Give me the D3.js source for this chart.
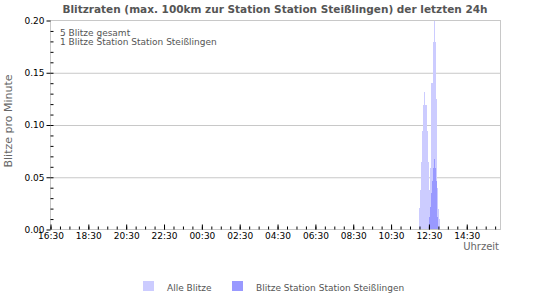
<!DOCTYPE html>
<html>
<head>
<meta charset="utf-8">
<script src="https://cdn.jsdelivr.net/npm/d3@7"></script>
<style>
  html, body { margin: 0; padding: 0; background: #fff; }
  svg { display: block; font-family: "DejaVu Sans", Verdana, sans-serif; }
</style>
</head>
<body>
<svg id="chart" width="550" height="300"></svg>
<script>
// ---- data ----
const titleText = "Blitzraten (max. 100km zur Station Station Steißlingen) der letzten 24h";
const infoLines = ["5 Blitze gesamt", "1 Blitze Station Station Steißlingen"];
const seriesNames = ["Alle Blitze", "Blitze Station Station Steißlingen"];
const seriesColors = ["#ccccff", "#9999ff"];

const axisStart = "16:30";
const axisEnd = "16:17";
const binMinutes = 3;

const alleTimes = ["12:00","12:03","12:06","12:09","12:12","12:15","12:18","12:21","12:24","12:27","12:30",
                   "12:33","12:36","12:39","12:42","12:45","12:48","12:51","12:54","12:57","13:00","13:03"];
const alleValues = [0.021,0.038,0.065,0.094,0.119,0.132,0.119,0.119,0.094,0.065,0.038,
                    0.059,0.140,0.140,0.179,0.200,0.179,0.125,0.075,0.040,0.020,0.010];

const stationTimes = ["12:30","12:33","12:36","12:39","12:42","12:45","12:48","12:51","12:54","12:57"];
const stationValues = [0.012,0.022,0.035,0.046,0.059,0.067,0.059,0.046,0.025,0.012];

const yTickValues = [0, 0.05, 0.10, 0.15, 0.20];
const xTickLabels = ["16:30","18:30","20:30","22:30","00:30","02:30","04:30","06:30","08:30","10:30","12:30","14:30"];

// ---- helpers ----
function toDate(hhmm) {
  const [h, m] = hhmm.split(":").map(Number);
  const d = new Date(2024, 0, 1, h, m);
  if (h * 60 + m < 16 * 60 + 30) d.setDate(d.getDate() + 1);
  return d;
}

const svg = d3.select("#chart");
const L = 50.5, R = 500.5, T = 20.5, B = 229.5;

const x = d3.scaleTime().domain([toDate(axisStart), toDate(axisEnd)]).range([L, R]);
const y = d3.scaleLinear().domain([0, 0.2]).range([B, T]);

// title
svg.append("text")
  .attr("x", 275).attr("y", 13)
  .attr("text-anchor", "middle")
  .attr("font-size", 10.5).attr("font-weight", "bold")
  .attr("fill", "#555")
  .text(titleText);

// grid lines
const grid = svg.append("g").attr("transform", `translate(${L},0)`)
  .call(d3.axisLeft(y).tickValues([0.05, 0.10, 0.15]).tickSize(-(R - L)).tickFormat(""));
grid.select(".domain").remove();
grid.selectAll("line").attr("stroke", "#c8c8c8");

// bars
function drawBars(times, values, color) {
  const data = times.map((t, i) => {
    const t0 = toDate(t);
    const t1 = d3.timeMinute.offset(t0, binMinutes);
    return { x0: Math.round(x(t0)), x1: Math.round(x(t1)), v: values[i] };
  });
  svg.append("g").attr("shape-rendering", "crispEdges")
    .selectAll("rect").data(data).join("rect")
    .attr("x", d => d.x0)
    .attr("width", d => Math.max(1, d.x1 - d.x0))
    .attr("y", d => Math.round(y(d.v)))
    .attr("height", d => Math.round(y(0)) - Math.round(y(d.v)))
    .attr("fill", color);
}
drawBars(alleTimes, alleValues, seriesColors[0]);
drawBars(stationTimes, stationValues, seriesColors[1]);

// frame
svg.append("rect")
  .attr("x", L).attr("y", T).attr("width", R - L).attr("height", B - T)
  .attr("fill", "none").attr("stroke", "#c8c8c8");

// y axis major (outside) with labels
const yMajor = svg.append("g").attr("transform", `translate(${L},0)`)
  .call(d3.axisLeft(y).tickValues(yTickValues).tickSize(4).tickPadding(2).tickFormat(d3.format(".2f")));
yMajor.select(".domain").remove();
yMajor.selectAll("line").attr("stroke", "#000");
yMajor.selectAll("text").attr("font-size", 9).attr("fill", "#000")
  .attr("font-family", "DejaVu Sans");

// y axis minor (inside)
const yMinorVals = d3.range(1, 20).map(i => i / 100);
const yMinor = svg.append("g").attr("transform", `translate(${L},0)`)
  .call(d3.axisRight(y).tickValues(yMinorVals).tickSize(3).tickFormat(""));
yMinor.select(".domain").remove();
yMinor.selectAll("line").attr("stroke", "#000");

// x axis minor ticks (inside, every 30 min)
const xMinor = svg.append("g").attr("transform", `translate(0,${B})`)
  .call(d3.axisBottom(x).ticks(d3.timeMinute.every(30)).tickSize(-3).tickFormat(""));
xMinor.select(".domain").remove();
xMinor.selectAll("line").attr("stroke", "#000");

// x axis major ticks with labels
const xMajorVals = xTickLabels.map(toDate);
const xMajor = svg.append("g").attr("transform", `translate(0,${B})`)
  .call(d3.axisBottom(x).tickValues(xMajorVals).tickSize(-5).tickPadding(3)
    .tickFormat(d3.timeFormat("%H:%M")));
xMajor.select(".domain").remove();
xMajor.selectAll("line").attr("stroke", "#000");
xMajor.selectAll("text").attr("font-size", 9).attr("fill", "#000")
  .attr("font-family", "DejaVu Sans");

// axis titles
svg.append("text")
  .attr("transform", "translate(12,121) rotate(-90)")
  .attr("text-anchor", "middle")
  .attr("font-size", 11).attr("fill", "#666")
  .text("Blitze pro Minute");

svg.append("text")
  .attr("x", 499).attr("y", 250)
  .attr("text-anchor", "end")
  .attr("font-size", 10).attr("fill", "#666")
  .text("Uhrzeit");

// info text
svg.append("g").selectAll("text").data(infoLines).join("text")
  .attr("x", 60).attr("y", (d, i) => 36 + i * 8.5)
  .attr("font-size", 9).attr("fill", "#555")
  .text(d => d);

// legend
const legendX = [143, 232];
const leg = svg.append("g").selectAll("g").data(seriesNames).join("g")
  .attr("transform", (d, i) => `translate(${legendX[i]},281)`);
leg.append("rect").attr("width", 11).attr("height", 10)
  .attr("fill", (d, i) => seriesColors[i]);
leg.append("text").attr("x", 24).attr("y", 9.5)
  .attr("font-size", 9).attr("fill", "#555")
  .text(d => d);
</script>
</body>
</html>
